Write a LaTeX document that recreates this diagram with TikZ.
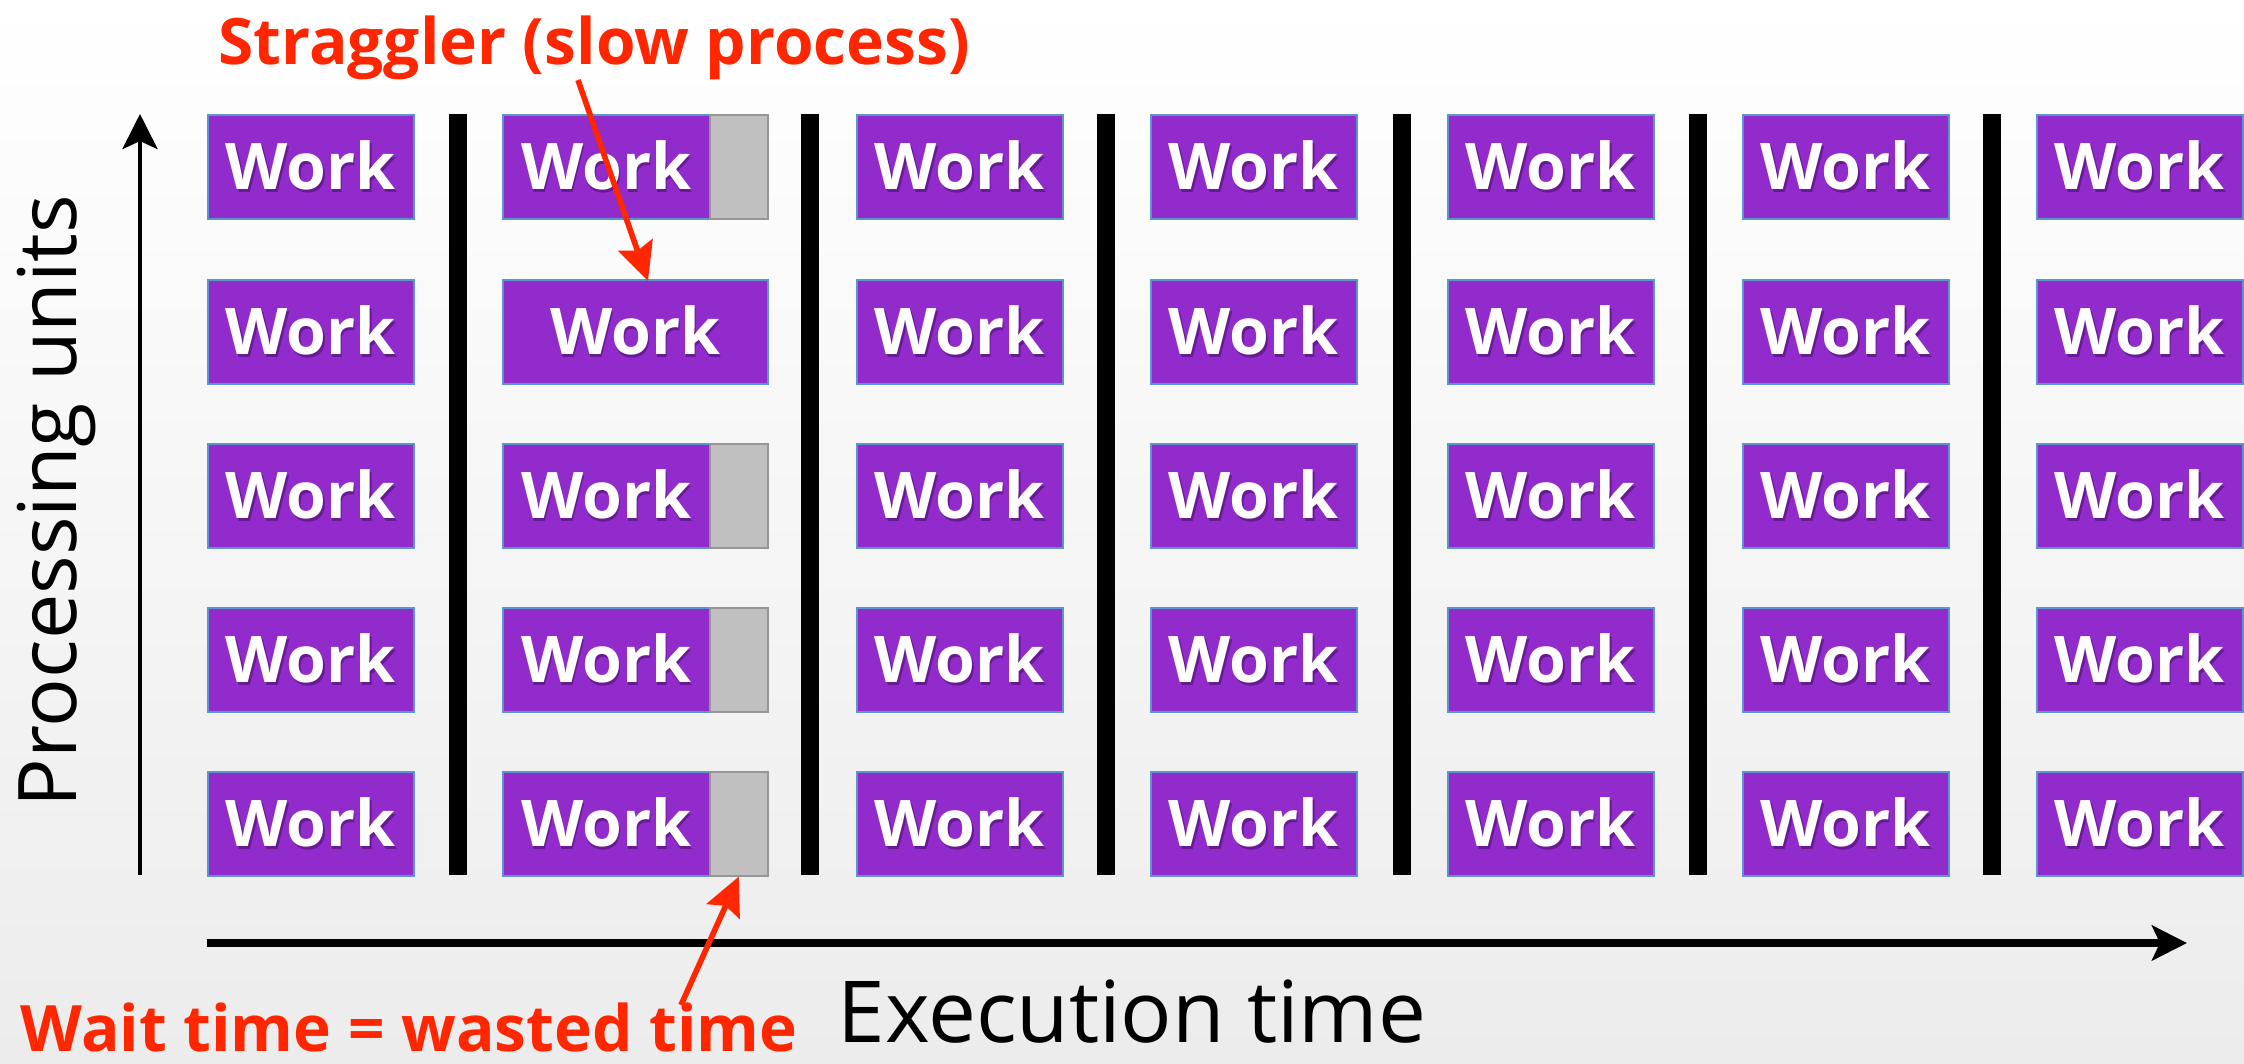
\documentclass[tikz,border=0pt]{standalone}
\usepackage{fontspec}
\setmainfont{Open Sans}
\usetikzlibrary{arrows.meta}

\definecolor{workpurple}{RGB}{146,43,204}
\definecolor{workedge}{RGB}{90,150,205}
\definecolor{waitgray}{RGB}{192,192,192}
\definecolor{waitedge}{RGB}{150,150,150}
\definecolor{callout}{RGB}{255,38,0}
\definecolor{shadowpurple}{RGB}{104,26,148}
\definecolor{bgbottom}{RGB}{236,236,236}

% white label with a soft drop shadow, set a little below centre
\newcommand\shadowlabel[1]{%
  \raisebox{-2.8pt}{%
    \makebox[0pt][l]{\hspace{0.35pt}\raisebox{-0.8pt}{\color{shadowpurple}#1}}%
    {\color{white}#1}}}

\begin{document}
\begin{tikzpicture}[x=0.01cm,y=-0.01cm,
  workbox/.style={fill=workpurple, draw=workedge, line width=0.45pt,
    minimum width=2.06cm, minimum height=1.04cm, inner sep=0pt,
    anchor=north west, font=\fontsize{18.3pt}{22pt}\selectfont\bfseries},
  waitbox/.style={fill=waitgray, draw=waitedge, line width=0.45pt,
    minimum width=0.58cm, minimum height=1.04cm, inner sep=0pt,
    anchor=north west},
  barrier/.style={fill=black},
  axisarrow/.style={draw=black, -{Stealth[length=0.35cm, width=0.35cm, inset=0.08cm]}},
  callarrow/.style={draw=callout, line width=1.6pt,
    -{Stealth[length=0.38cm, width=0.36cm, inset=0.06cm]}},
  calltext/.style={text=callout, inner sep=0pt, anchor=base,
    font=\fontsize{18.2pt}{21pt}\selectfont\bfseries},
  axistext/.style={inner sep=0pt}
]
\useasboundingbox (0,0) rectangle (2244,1064);
\shade[top color=white, bottom color=bgbottom] (0,0) rectangle (2244,1064);

% barriers between the steps
\foreach \bx in {449,801,1097,1393,1689,1983}
  \fill[barrier] (\bx,114) rectangle (\bx+18,875);

% work blocks: columns 1 and 3..7
\foreach \c/\cx in {1/207,3/856,4/1150,5/1447,6/1742,7/2036}
  \foreach \r/\ry in {1/114,2/279,3/443,4/607,5/771}
    \node[workbox] (w\c\r) at (\cx,\ry) {\shadowlabel{Work}};

% second step: four units finish early and wait, one straggles
\foreach \r/\ry in {1/114,3/443,4/607,5/771} {
  \node[workbox, minimum width=2.07cm] (w2\r) at (502,\ry) {\shadowlabel{Work}};
  \node[waitbox] (g2\r) at (709,\ry) {};
}
\node[workbox, minimum width=2.65cm] (w22) at (502,279) {\shadowlabel{Work}};

% axes
\coordinate (ybot) at (140,875);
\coordinate (ytop) at (140,114);
\coordinate (xleft) at (207,943);
\coordinate (xright) at (2187,943);
\draw[axisarrow, line width=1.4pt] (ybot) -- (ytop);
\draw[axisarrow, line width=2.3pt] (xleft) -- (xright);

\node[axistext, rotate=90, font=\fontsize{23pt}{27pt}\selectfont] (ylabel) at (57,501) {Processing units};
\node[axistext, anchor=base, font=\fontsize{24.3pt}{29pt}\selectfont] (xlabel) at (1132,1043) {Execution time};

% call-outs
\node[calltext] (strag) at (594,65) {Straggler (slow process)};
\node[calltext] (waste) at (409,1051) {Wait time = wasted time};
\coordinate (stragtail) at (578,80);
\coordinate (stragtip) at (648,281);
\coordinate (wastetail) at (681,1005);
\draw[callarrow] (stragtail) -- (stragtip);
\draw[callarrow] (wastetail) -- (g25.south);
\end{tikzpicture}
\end{document}
